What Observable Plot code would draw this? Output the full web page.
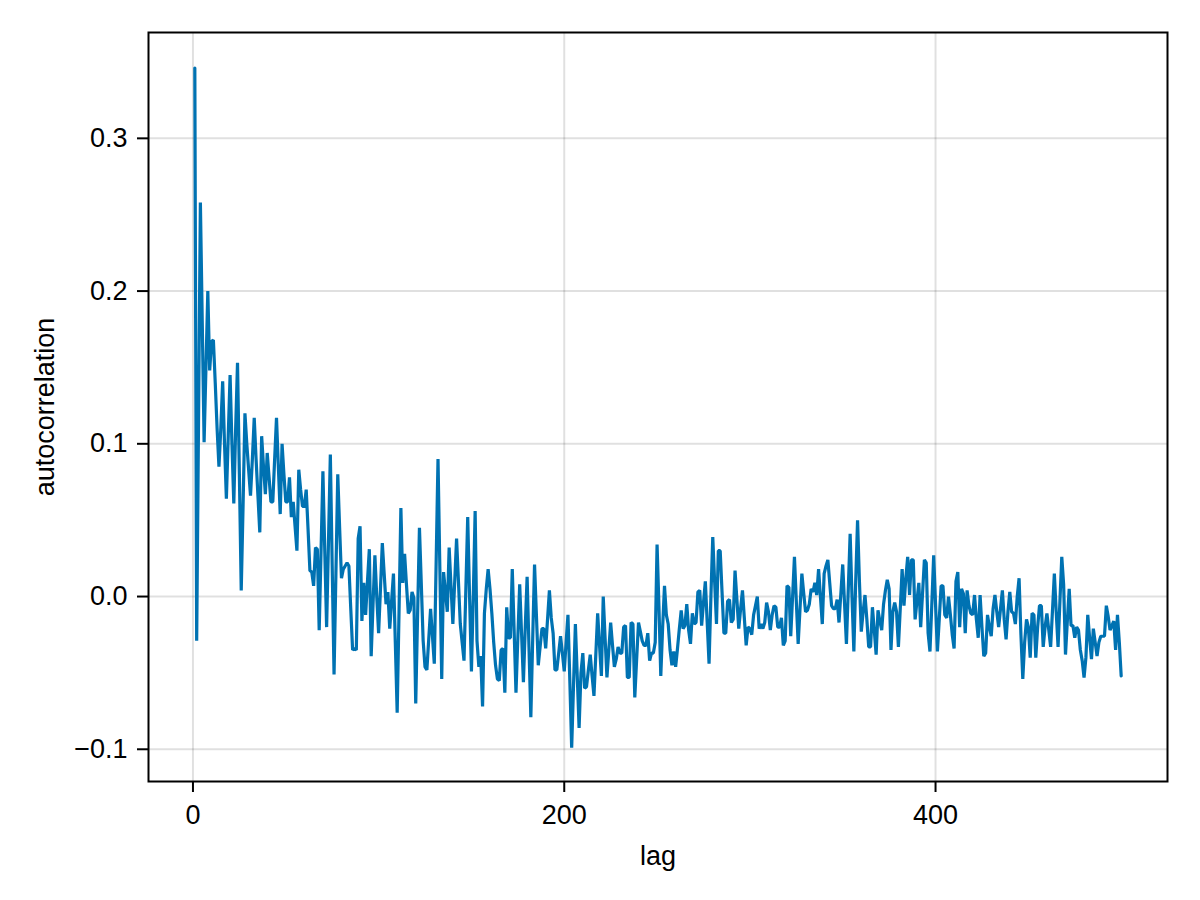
<!DOCTYPE html>
<html>
<head>
<meta charset="utf-8">
<script src="https://cdn.jsdelivr.net/npm/d3@7"></script>
<script src="https://cdn.jsdelivr.net/npm/@observablehq/plot@0.6"></script>
<style>
  html, body { margin: 0; padding: 0; background: #ffffff; }
  #chart svg { display: block; }
</style>
</head>
<body>
<div id="chart"></div>
<script>
// autocorrelation values, lags 1..500
const acfA = [0.346,-0.029,0.115,0.258,0.18,0.101,0.15,0.2,0.148,0.167,
  0.168,0.14,0.11,0.085,0.11,0.141,0.10,0.064,0.105,0.145,
  0.10,0.061,0.11,0.153,0.08,0.004,0.06,0.120,0.10,0.083,
  0.066,0.09,0.117,0.09,0.066,0.042,0.105,0.085,0.067,0.094,
  0.078,0.062,0.062,0.09,0.117,0.085,0.054,0.100,0.08,0.062];
const acfB = [0.062,0.078,0.052,0.062,0.046,0.030,0.083,0.07,0.059,0.059,
  0.070,0.044,0.017,0.016,0.007,0.032,0.031,-0.022,0.03,0.082,
  0.03,-0.020,0.036,0.093,0.02,-0.051,0.015,0.080,0.045,0.012,
  0.018,0.020,0.022,0.020,-0.008,-0.035,-0.034,-0.035,0.038,0.046,
  -0.016,0.009,-0.012,0.01,0.031,-0.039,-0.005,0.027,0.0,-0.024];
const acfC = [0.005,0.035,0.015,-0.005,0.003,-0.021,-0.003,0.015,-0.03,-0.076,
  -0.01,0.058,0.009,0.028,0.008,-0.011,-0.009,0.003,-0.001,-0.070,
  -0.012,0.045,0.008,-0.029,-0.046,-0.048,-0.028,-0.008,-0.026,-0.044,
  0.023,0.090,0.018,-0.054,0.016,0.003,-0.010,0.032,0.007,-0.018,
  0.01,0.038,0.01,-0.018,-0.03,-0.042,0.005,0.052,0.0,-0.049];
const acfD = [0.0,0.056,-0.029,-0.046,-0.039,-0.072,-0.011,0.005,0.018,0.005,
  -0.011,-0.03,-0.045,-0.054,-0.055,-0.035,-0.034,-0.063,-0.007,-0.027,
  -0.027,0.018,-0.022,-0.063,-0.027,0.008,-0.024,-0.056,-0.02,0.013,
  -0.033,-0.079,-0.028,0.021,-0.012,-0.045,-0.033,-0.021,-0.021,-0.034,
  -0.015,0.004,-0.014,-0.024,-0.048,-0.048,-0.037,-0.026,-0.037,-0.049];
const acfE = [-0.03,-0.012,-0.055,-0.099,-0.058,-0.018,-0.052,-0.086,-0.05,-0.037,
  -0.060,-0.059,-0.048,-0.038,-0.052,-0.065,-0.038,-0.011,-0.032,-0.052,
  0.000,-0.027,-0.053,-0.035,-0.017,-0.032,-0.046,-0.041,-0.033,-0.037,
  -0.037,-0.020,-0.019,-0.053,-0.053,-0.017,-0.018,-0.066,-0.041,-0.017,
  -0.023,-0.029,-0.032,-0.032,-0.024,-0.042,-0.037,-0.037,-0.030,0.034];
const acfF = [-0.006,-0.052,-0.02,0.007,-0.012,-0.018,-0.035,-0.045,-0.036,-0.046,
  -0.034,-0.021,-0.009,-0.021,-0.019,-0.005,-0.022,-0.031,-0.011,-0.018,
  -0.017,0.003,0.004,-0.019,-0.004,0.010,-0.017,-0.044,0.000,0.039,
  0.01,-0.018,0.030,0.030,0.003,-0.024,-0.024,-0.003,-0.002,-0.017,
  -0.015,0.017,-0.002,-0.021,-0.008,0.004,-0.014,-0.032,-0.020,-0.021];
const acfG = [-0.025,-0.012,-0.006,0.000,-0.021,-0.018,-0.021,-0.017,-0.004,-0.010,
  -0.022,-0.012,-0.006,-0.007,-0.020,-0.020,-0.014,-0.032,-0.029,0.007,
  0.006,-0.026,0.000,0.026,-0.003,-0.031,-0.008,0.015,0.002,-0.010,
  -0.009,-0.005,0.005,0.003,0.009,0.001,0.018,0.000,-0.018,0.015,
  0.020,0.024,0.009,-0.006,-0.008,-0.008,-0.002,-0.017,0.002,0.021];
const acfH = [-0.005,-0.031,0.005,0.041,0.0,-0.036,0.010,0.050,0.010,-0.023,
  -0.010,0.001,-0.015,-0.033,-0.033,-0.007,-0.022,-0.038,-0.009,-0.016,
  -0.022,-0.005,0.004,0.011,0.005,-0.035,-0.010,-0.004,-0.010,-0.033,
  -0.008,0.018,-0.006,0.012,0.026,0.001,0.024,0.024,-0.015,-0.003,
  0.009,-0.020,0.002,0.024,0.022,-0.024,-0.036,-0.005,0.027,-0.005];
const acfI = [-0.036,-0.015,0.007,0.007,-0.012,-0.014,0.000,-0.012,-0.025,-0.034,
  0.010,0.016,-0.020,0.005,0.002,-0.024,0.004,-0.006,-0.011,-0.012,
  0.001,-0.015,-0.027,0.001,-0.020,-0.039,-0.037,-0.012,-0.020,-0.026,
  -0.008,0.001,-0.010,-0.020,-0.008,0.004,-0.015,-0.028,-0.010,0.003,
  -0.010,-0.011,-0.018,0.000,0.012,-0.025,-0.054,-0.030,-0.015,-0.020];
const acfJ = [-0.040,-0.011,-0.012,-0.040,-0.020,-0.006,-0.006,-0.033,-0.020,-0.011,
  -0.022,-0.033,-0.009,0.015,-0.010,-0.033,-0.003,0.026,0.008,-0.038,
  -0.016,0.005,-0.019,-0.019,-0.027,-0.020,-0.022,-0.035,-0.042,-0.053,
  -0.040,-0.012,-0.027,-0.041,-0.021,-0.030,-0.039,-0.030,-0.026,-0.026,
  -0.026,-0.006,-0.013,-0.022,-0.019,-0.016,-0.035,-0.012,-0.030,-0.052];

const xTicks = [0, 200, 400];
const yTicks = [-0.1, 0.0, 0.1, 0.2, 0.3];
const xLabel = "lag";
const yLabel = "autocorrelation";

const acf = [].concat(acfA, acfB, acfC, acfD, acfE, acfF, acfG, acfH, acfI, acfJ);
const data = acf.map((v, i) => ({lag: i + 1, value: v}));

const FONT = "'Liberation Sans', Arial, Helvetica, sans-serif";
const FS = 27;

const chart = Plot.plot({
  width: 1200,
  height: 900,
  marginLeft: 148,
  marginRight: 33,
  marginTop: 32,
  marginBottom: 119,
  style: {fontFamily: FONT, fontSize: FS + "px", background: "white", color: "black"},
  x: {domain: [-23.95, 524.95]},
  y: {domain: [-0.1211, 0.3693]},
  marks: [
    Plot.gridX(xTicks, {stroke: "black", strokeOpacity: 0.12, strokeWidth: 2}),
    Plot.gridY(yTicks, {stroke: "black", strokeOpacity: 0.12, strokeWidth: 2}),
    Plot.line(data, {x: "lag", y: "value", stroke: "#0072B2", strokeWidth: 3.2, strokeLinejoin: "miter"}),
    Plot.frame({stroke: "black", strokeWidth: 2}),
    Plot.axisX({ticks: xTicks, tickSize: 11, tickPadding: 12, fontSize: FS, stroke: "black", strokeWidth: 2, fill: "black", label: null, tickFormat: d3.format("d")}),
    Plot.axisY({ticks: yTicks, tickSize: 11, tickPadding: 10, fontSize: FS, stroke: "black", strokeWidth: 2, fill: "black", label: null, tickFormat: d3.format(".1f")}),
    Plot.text([xLabel], {text: d => d, frameAnchor: "bottom", lineAnchor: "middle", textAnchor: "middle", dy: 75, fontSize: FS, fill: "black"}),
    Plot.text([yLabel], {text: d => d, frameAnchor: "left", lineAnchor: "middle", textAnchor: "middle", dx: -103, rotate: -90, fontSize: FS, fill: "black"})
  ]
});
document.getElementById("chart").appendChild(chart);
</script>
</body>
</html>
